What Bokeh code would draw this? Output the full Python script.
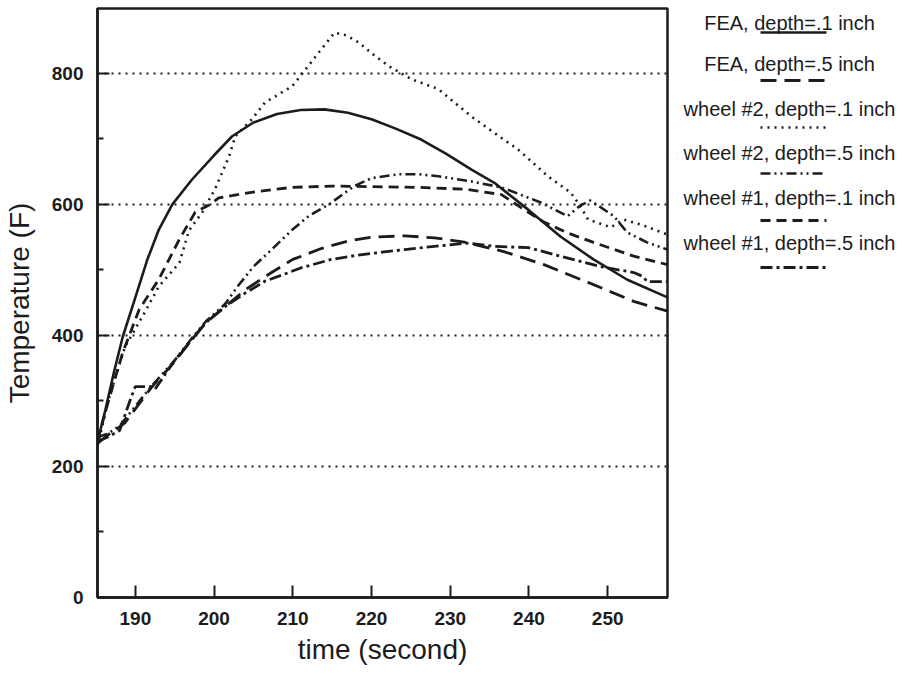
from bokeh.plotting import figure
from bokeh.layouts import row
from bokeh.models import Range1d, FixedTicker
from bokeh.core.properties import value
from bokeh.embed import file_html
from bokeh.resources import INLINE

# ---------------- data ----------------
fea1_t = [185.2, 186.2, 187.3, 188.4, 190, 191.5, 193, 194.7, 197.2, 200, 202.3, 205, 208, 211,
          214, 217, 220, 223, 226.3, 229.5, 232.7, 235.6, 239.9, 244, 248.2, 252.5, 257.6]
fea1_T = [238, 287, 345, 398, 458, 515, 562, 600, 638, 675, 704, 725, 738, 744,
          745, 740, 730, 716, 699, 677, 653, 633, 592, 551, 516, 485, 458]

fea5_t = [185.2, 186.5, 187.5, 188.7, 190, 192, 195, 197.2, 199, 201.4, 204, 207.3, 210, 213.7,
          217, 220, 224.2, 228, 232, 236.8, 241.9, 247.5, 253.3, 257.6]
fea5_T = [235, 248, 256, 267, 288, 320, 360, 394, 420, 444, 470, 496, 516, 533,
          544, 550, 552, 549, 542, 528, 508, 481, 452, 437]

w2d1_t = [185.2, 186.7, 188.7, 190.9, 193, 195.6, 196.8, 198.5, 200.1, 201.9, 202.7, 204.8, 206.5,
          209.9, 211.1, 213.5, 215.3, 216.8, 218.4, 220.3, 222.2, 225.1, 228.5, 232.7, 235.5,
          238.6, 242.4, 245.3, 246.5, 247.5, 250.4, 252, 254.5, 257.6]
w2d1_T = [232, 307, 383, 429, 475, 511, 560, 588, 623, 673, 704, 730, 756,
          780, 798, 835, 862, 858, 847, 828, 811, 791, 776, 734, 710,
          684, 643, 618, 598, 577, 565, 577, 568, 554]

w2d5_t = [185.2, 186.5, 188, 190, 192, 195, 197.2, 199, 201.4, 203, 205, 207.3, 210, 212,
          214.6, 217.8, 220, 223.4, 226, 228.5, 232.7, 236.5, 241.5, 244.9, 246.5, 247.8,
          250.8, 252.5, 255, 257.6]
w2d5_T = [245, 250, 262, 292, 322, 362, 396, 422, 448, 475, 505, 531, 562, 582,
          600, 628, 640, 646, 646, 643, 635, 626, 603, 582, 598, 606,
          582, 557, 542, 531]

w1d1_t = [185.2, 186.7, 188.4, 190.5, 193, 195.6, 197.6, 199.5, 200.6, 203, 205.7, 209.9, 215,
          220, 226, 232, 236.5, 239, 241.9, 245, 248.2, 253.3, 257.6]
w1d1_T = [240, 305, 374, 440, 486, 547, 588, 600, 610, 615, 620, 626, 628,
          627, 626, 623, 615, 595, 573, 556, 542, 521, 508]

w1d5_t = [185.2, 186.5, 188, 189.3, 190, 192, 192.5, 195, 197.2, 199, 201.4, 204, 206.5, 208.6,
          211, 214.9, 218, 221.3, 224.2, 228, 232.3, 235.6, 239.9, 244, 249.1, 253.3, 254.5,
          255, 257.6]
w1d5_T = [238, 245, 255, 300, 322, 322, 318, 362, 394, 420, 444, 465, 483, 492,
          503, 516, 522, 527, 531, 536, 541, 536, 534, 521, 505, 496, 490,
          482, 482]

series_labels = ["FEA, depth=.1 inch", "FEA, depth=.5 inch",
                 "wheel #2, depth=.1 inch", "wheel #2, depth=.5 inch",
                 "wheel #1, depth=.1 inch", "wheel #1, depth=.5 inch"]

x_ticks = [190, 200, 210, 220, 230, 240, 250]
y_ticks = [0, 200, 400, 600, 800]
y_minor = [100, 300, 500, 700, 900]
grid_levels = [200, 400, 600, 800]

# ---------------- styles ----------------
INK = "#1c1c1c"
FONT = "Liberation Sans"
dashes = ["solid", "16 8", "2 5", "10 4 2 4 2 4", "10 6", "12 4 3 4"]
widths = [2.6, 2.8, 2.6, 2.6, 2.8, 2.8]

p = figure(width=670, height=675,
           x_range=Range1d(185.19, 257.6), y_range=Range1d(0, 899),
           output_backend="svg", toolbar_location=None,
           min_border_left=95, min_border_right=3, min_border_top=8, min_border_bottom=78)

series = [(fea1_t, fea1_T), (fea5_t, fea5_T), (w2d1_t, w2d1_T),
          (w2d5_t, w2d5_T), (w1d1_t, w1d1_T), (w1d5_t, w1d5_T)]
for (tt, TT), d, w in zip(series, dashes, widths):
    p.line(tt, TT, line_color=INK, line_width=w, line_dash=d, line_cap="butt")

p.xaxis.ticker = FixedTicker(ticks=x_ticks, minor_ticks=[])
p.yaxis.ticker = FixedTicker(ticks=y_ticks, minor_ticks=y_minor)
p.xgrid.grid_line_color = None
p.ygrid.ticker = FixedTicker(ticks=grid_levels)
p.ygrid.grid_line_color = INK
p.ygrid.grid_line_dash = "2 5"
p.ygrid.grid_line_width = 2

for ax in (p.xaxis[0], p.yaxis[0]):
    ax.axis_line_color = INK
    ax.axis_line_width = 2.5
    ax.major_tick_line_color = INK
    ax.major_tick_line_width = 2
    ax.minor_tick_line_color = INK
    ax.minor_tick_line_width = 2
    ax.major_tick_in = 12
    ax.major_tick_out = 0
    ax.minor_tick_in = 6
    ax.minor_tick_out = 0
    ax.major_label_text_font = FONT
    ax.major_label_text_font_size = "19px"
    ax.major_label_text_font_style = "bold"
    ax.major_label_text_color = INK
    ax.major_label_standoff = 14
    ax.axis_label_text_font = FONT
    ax.axis_label_text_font_size = "28px"
    ax.axis_label_text_font_style = "normal"
    ax.axis_label_text_color = INK

p.xaxis.axis_label = "time (second)"
p.yaxis.axis_label = "Temperature (F)"
p.xaxis.axis_label_standoff = 6
p.yaxis.axis_label_standoff = 14

p.outline_line_color = INK
p.outline_line_width = 2.5
p.outline_line_alpha = 1.0
p.background_fill_color = "white"
p.border_fill_color = "white"

# ---------------- legend panel ----------------
# the row aligns this panel's frame with the main frame (page y 8..597),
# so its y range is expressed in page pixels over that span
lg = figure(width=236, height=675, x_range=Range1d(0, 236), y_range=Range1d(597, 8),
            output_backend="svg", toolbar_location=None,
            x_axis_location=None, y_axis_location=None, min_border=0)
lg.grid.visible = False
lg.outline_line_color = None

text_y = [22, 63, 108, 152, 197, 242]
line_y = [32, 80, 127, 173, 220, 267]
lg.text(x=[119] * 6, y=text_y, text=series_labels, text_align="center",
        text_baseline="middle", text_font=value(FONT), text_font_size="20px",
        text_color=INK)
for ly, d, w in zip(line_y, dashes, widths):
    lg.line([90, 156], [ly, ly], line_color=INK, line_width=w, line_dash=d, line_cap="butt")

layout = row(p, lg, spacing=0)
open("out.html", "w").write(file_html(layout, INLINE))
